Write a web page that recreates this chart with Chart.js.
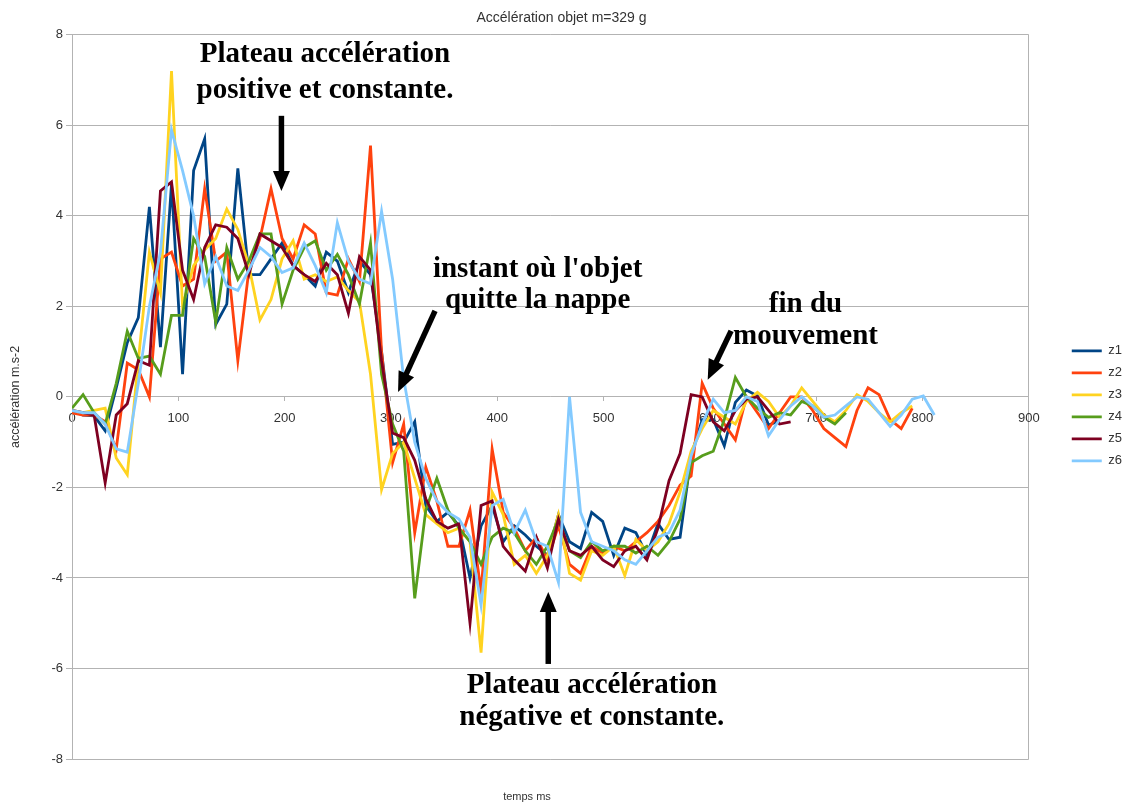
<!DOCTYPE html>
<html lang="fr">
<head>
<meta charset="utf-8">
<title>Accélération objet m=329 g</title>
<script src="https://cdn.jsdelivr.net/npm/chart.js@4.4.1/dist/chart.umd.min.js"></script>
<style>
  html, body { margin: 0; padding: 0; background: #ffffff; }
  #wrap { width: 1123px; height: 803px; }
</style>
</head>
<body>
<div id="wrap"><canvas id="chart" width="1123" height="803"></canvas></div>
<script>
// Sample times (ms) shared by all six runs
const TIMES = [0, 10.4, 20.8, 31.2, 41.6, 52, 62.4, 72.8, 83.2, 93.6,
  104, 114.4, 124.8, 135.2, 145.6, 156, 166.4, 176.8, 187.2, 197.6,
  208, 218.4, 228.8, 239.2, 249.6, 260, 270.4, 280.8, 291.2, 301.6,
  312, 322.4, 332.8, 343.2, 353.6, 364, 374.4, 384.8, 395.2, 405.6,
  416, 426.4, 436.8, 447.2, 457.6, 468, 478.4, 488.8, 499.2, 509.6,
  520, 530.4, 540.8, 551.2, 561.6, 572, 582.4, 592.8, 603.2, 613.6,
  624, 634.4, 644.8, 655.2, 665.6, 676, 686.4, 696.8, 707.2, 717.6,
  728, 738.4, 748.8, 759.2, 769.6, 780, 790.4, 800.8, 811.2];

// Acceleration (m.s-2) for each run
const Z1 = [-0.30, -0.40, -0.42, -0.75, 0.20, 1.20, 1.75, 4.20, 1.10, 4.70,
  0.50, 5.00, 5.70, 1.60, 2.05, 5.05, 2.70, 2.70, 3.05, 3.40,
  2.90, 2.70, 2.45, 3.20, 3.00, 2.30, 3.00, 2.70, 1.00, -1.05,
  -1.00, -0.55, -2.40, -2.75, -2.55, -2.85, -4.00, -2.85, -2.40, -3.20,
  -2.85, -3.05, -3.30, -3.50, -2.60, -3.20, -3.35, -2.55, -2.75, -3.50,
  -2.90, -3.00, -3.50, -2.80, -3.15, -3.10, -1.30, -0.50, -0.50, -1.08,
  -0.12, 0.15, 0.02, -0.62, -0.53];

const Z2 = [-0.35, -0.40, -0.40, -0.55, -1.15, 0.75, 0.60, 0.00, 3.05, 3.20,
  2.45, 2.60, 4.60, 3.00, 3.20, 0.80, 2.80, 3.50, 4.60, 3.50,
  3.05, 3.80, 3.60, 2.30, 2.25, 3.05, 2.55, 5.55, 1.00, -1.45,
  -0.60, -3.00, -1.55, -2.30, -3.30, -3.30, -2.50, -4.30, -1.15, -2.55,
  -2.90, -3.40, -3.10, -3.60, -2.85, -3.70, -3.90, -3.30, -3.45, -3.30,
  -3.40, -3.20, -3.00, -2.75, -2.40, -1.95, -1.75, 0.30, -0.25, -0.60,
  -0.95, 0.00, -0.35, -0.70, -0.35, 0.00, 0.00, -0.30, -0.70, -0.90,
  -1.10, -0.30, 0.20, 0.05, -0.50, -0.70, -0.25];

const Z3 = [-0.30, -0.35, -0.30, -0.25, -1.35, -1.72, 0.80, 3.20, 2.30, 7.20,
  2.00, 2.90, 3.25, 3.50, 4.15, 3.70, 2.90, 1.70, 2.15, 3.05,
  3.45, 2.60, 2.70, 2.55, 2.65, 2.35, 2.10, 0.50, -2.05, -1.25,
  -1.00, -1.80, -2.60, -2.80, -3.00, -2.90, -3.20, -5.65, -2.10, -2.60,
  -3.70, -3.50, -3.90, -3.50, -2.60, -3.90, -4.05, -3.40, -3.50, -3.30,
  -3.95, -3.15, -3.40, -3.20, -2.80, -2.10, -1.20, -0.70, -0.30, -0.45,
  -0.60, -0.10, 0.10, -0.10, -0.45, -0.20, 0.20, -0.10, -0.40, -0.55,
  -0.30, 0.05, -0.10, -0.35, -0.55, -0.35, -0.20];

const Z4 = [-0.25, 0.05, -0.35, -0.60, 0.30, 1.45, 0.85, 0.90, 0.50, 1.80,
  1.80, 3.50, 3.10, 1.65, 3.30, 2.60, 3.00, 3.60, 3.60, 2.05,
  2.80, 3.30, 3.45, 2.80, 3.15, 2.70, 2.05, 3.40, 0.50, -0.60,
  -1.20, -4.45, -2.50, -1.80, -2.50, -2.90, -3.20, -3.70, -3.10, -2.90,
  -3.00, -3.40, -3.70, -3.30, -2.70, -3.40, -3.55, -3.20, -3.40, -3.30,
  -3.30, -3.45, -3.30, -3.50, -3.20, -2.70, -1.45, -1.30, -1.20, -0.50,
  0.43, 0.00, -0.25, -0.45, -0.35, -0.40, -0.10, -0.20, -0.45, -0.60,
  -0.35];

const Z5 = [-0.30, -0.35, -0.40, -1.90, -0.40, -0.15, 0.80, 0.70, 4.55, 4.75,
  2.80, 2.15, 3.30, 3.80, 3.75, 3.50, 2.70, 3.60, 3.45, 3.30,
  2.90, 2.70, 2.55, 2.95, 2.70, 1.85, 3.10, 2.80, 0.80, -0.80,
  -0.90, -1.40, -2.25, -2.75, -2.90, -2.80, -5.00, -2.40, -2.30, -3.30,
  -3.60, -3.85, -3.10, -3.78, -2.70, -3.40, -3.50, -3.30, -3.60, -3.75,
  -3.40, -3.30, -3.60, -2.90, -1.85, -1.25, 0.05, 0.00, -0.55, -0.75,
  -0.30, -0.05, 0.00, -0.30, -0.60, -0.55];

const Z6 = [-0.30, -0.35, -0.35, -0.60, -1.15, -1.22, 0.30, 2.00, 3.20, 5.90,
  5.00, 4.00, 2.50, 3.10, 2.45, 2.35, 2.80, 3.30, 3.10, 2.75,
  2.85, 3.40, 2.90, 2.30, 3.85, 3.00, 2.60, 2.50, 4.10, 2.60,
  0.40, -1.00, -1.80, -2.30, -2.55, -2.70, -3.10, -4.60, -2.40, -2.26,
  -3.00, -2.50, -3.20, -3.30, -4.10, 0.00, -2.55, -3.20, -3.30, -3.40,
  -3.60, -3.70, -3.40, -3.10, -3.00, -2.50, -1.30, -0.60, -0.05, -0.35,
  -0.30, 0.00, -0.10, -0.86, -0.50, -0.20, 0.00, -0.20, -0.45, -0.40,
  -0.20, 0.00, -0.05, -0.35, -0.65, -0.40, -0.05, 0.02, -0.40];

const SERIES_NAMES = ['z1', 'z2', 'z3', 'z4', 'z5', 'z6'];
const SERIES_VALUES = [Z1, Z2, Z3, Z4, Z5, Z6];
const SERIES_COLORS = ['#004586', '#ff420e', '#ffd320', '#579d1c', '#7e0021', '#83caff'];

// Axis ranges and ticks
const X_MIN = 0, X_MAX = 900, X_STEP = 100;
const Y_MIN = -8, Y_MAX = 8, Y_STEP = 2;

// Commentary placed in data units (ms, m.s-2)
const NOTES = [
  { lines: ['Plateau accélération', 'positive et constante.'], t: 238, v: [7.56, 6.76] },
  { lines: ["instant où l'objet", 'quitte la nappe'], t: 438, v: [2.82, 2.12] },
  { lines: ['fin du', 'mouvement'], t: 690, v: [2.05, 1.34] },
  { lines: ['Plateau accélération', 'négative et constante.'], t: 489, v: [-6.38, -7.08] }
];
const ARROWS = [
  { from: [197, 6.21], to: [197, 4.55] },
  { from: [341.5, 1.90], to: [306.7, 0.11] },
  { from: [620, 1.46], to: [598, 0.38] },
  { from: [448, -5.90], to: [448, -4.31] }
];

const GRID = '#b3b3b3';
const TEXT = '#333333';
Chart.defaults.font.family = "'Liberation Sans', Arial, sans-serif";
Chart.defaults.color = TEXT;

const datasets = SERIES_VALUES.map((vals, k) => ({
  label: SERIES_NAMES[k],
  data: vals.map((v, i) => ({ x: TIMES[i], y: v })),
  borderColor: SERIES_COLORS[k],
  backgroundColor: SERIES_COLORS[k],
  borderWidth: 2.8,
  pointRadius: 0,
  tension: 0,
  order: SERIES_NAMES.length - k   // later runs drawn on top
}));

function drawArrow(ctx, x1, y1, x2, y2) {
  const ang = Math.atan2(y2 - y1, x2 - x1);
  const head = 20, half = 8.5;
  const bx = x2 - head * Math.cos(ang), by = y2 - head * Math.sin(ang);
  ctx.strokeStyle = '#000';
  ctx.fillStyle = '#000';
  ctx.lineWidth = 5.5;
  ctx.lineCap = 'butt';
  ctx.beginPath();
  ctx.moveTo(x1, y1);
  ctx.lineTo(bx + Math.cos(ang), by + Math.sin(ang));
  ctx.stroke();
  ctx.beginPath();
  ctx.moveTo(x2, y2);
  ctx.lineTo(bx + half * Math.sin(ang), by - half * Math.cos(ang));
  ctx.lineTo(bx - half * Math.sin(ang), by + half * Math.cos(ang));
  ctx.closePath();
  ctx.fill();
}

const notesPlugin = {
  id: 'notes',
  afterLayout(chart) {
    // nudge the legend block a little right and down
    const lg = chart.legend;
    if (lg) { lg.left += 9; lg.right += 9; lg.top += 9; lg.bottom += 9; }
  },
  afterDatasetsDraw(chart) {
    const { ctx, scales: { x, y } } = chart;
    ctx.save();
    ctx.fillStyle = '#000';
    ctx.font = "bold 29px 'Liberation Serif', 'Times New Roman', serif";
    ctx.textAlign = 'center';
    ctx.textBaseline = 'middle';
    NOTES.forEach(n => {
      n.lines.forEach((line, i) => {
        ctx.fillText(line, x.getPixelForValue(n.t), y.getPixelForValue(n.v[i]));
      });
    });
    ARROWS.forEach(a => {
      drawArrow(ctx,
        x.getPixelForValue(a.from[0]), y.getPixelForValue(a.from[1]),
        x.getPixelForValue(a.to[0]), y.getPixelForValue(a.to[1]));
    });
    ctx.restore();
  },
  afterDraw(chart) {
    // x axis title, below the plot frame
    const { ctx, chartArea } = chart;
    ctx.save();
    ctx.fillStyle = TEXT;
    ctx.font = "11px 'Liberation Sans', Arial, sans-serif";
    ctx.textAlign = 'center';
    ctx.textBaseline = 'middle';
    ctx.fillText('temps ms', 527, chartArea.bottom + 38);
    ctx.restore();
  }
};

new Chart(document.getElementById('chart'), {
  type: 'line',
  data: { datasets },
  options: {
    responsive: false,
    animation: false,
    devicePixelRatio: 1,
    layout: { padding: { left: 0, right: 0, top: 0, bottom: 0 } },
    plugins: {
      title: {
        display: true,
        text: 'Accélération objet m=329 g',
        color: TEXT,
        font: { size: 14, weight: 'normal' },
        padding: { top: 10, bottom: 8 }
      },
      legend: {
        position: 'right',
        fullSize: false,
        labels: {
          usePointStyle: true,
          pointStyle: 'line',
          pointStyleWidth: 30,
          padding: 9,
          color: TEXT,
          font: { size: 13 },
          sort: (a, b) => a.datasetIndex - b.datasetIndex
        }
      },
      tooltip: { enabled: false }
    },
    scales: {
      x: {
        type: 'linear',
        position: 'bottom',
        min: X_MIN, max: X_MAX,
        ticks: { display: false, stepSize: X_STEP },
        grid: {
          drawTicks: false,
          color: ctx => (ctx.tick && ctx.tick.value === X_MAX) ? GRID : 'rgba(0,0,0,0)'
        },
        border: { display: false },
        afterFit: s => { s.height = 44; }
      },
      xAxisLabels: {
        type: 'linear',
        position: { y: 0 },
        min: X_MIN, max: X_MAX,
        ticks: { stepSize: X_STEP, padding: 10, color: TEXT, font: { size: 13 } },
        grid: { drawOnChartArea: false, drawTicks: true, tickLength: 4, color: GRID },
        border: { display: false },
        afterFit: s => { s.height = 0; }
      },
      y: {
        type: 'linear',
        position: 'left',
        min: Y_MIN, max: Y_MAX,
        ticks: { stepSize: Y_STEP, padding: 3, color: TEXT, font: { size: 13 } },
        grid: { color: GRID, tickLength: 6 },
        border: { color: GRID },
        title: {
          display: true,
          text: 'accélération m.s-2',
          color: TEXT,
          font: { size: 12.5 },
          padding: { top: 8, bottom: 0 }
        },
        afterFit: s => { s.width = 72; }
      },
      legendGap: {
        type: 'linear',
        position: 'right',
        display: true,
        ticks: { display: false },
        grid: { display: false, drawTicks: false },
        border: { display: false },
        afterFit: s => { s.width = 25; }
      }
    }
  },
  plugins: [notesPlugin]
});
</script>
</body>
</html>
